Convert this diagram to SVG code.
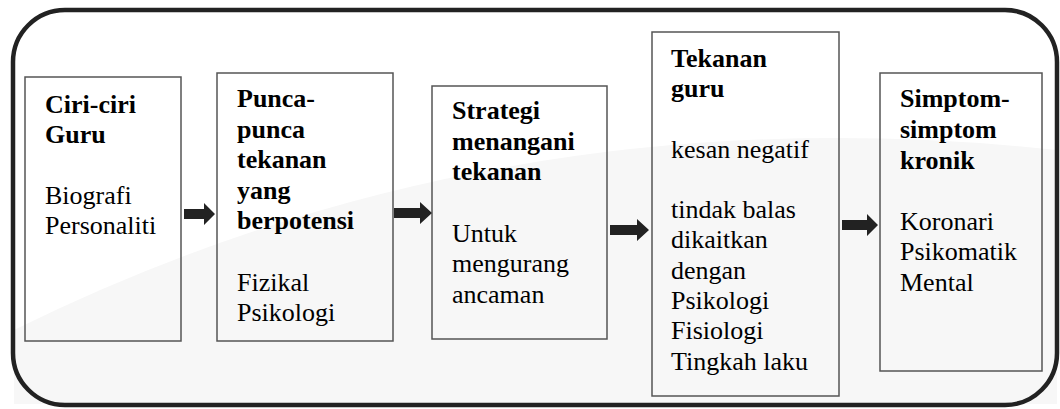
<svg xmlns="http://www.w3.org/2000/svg" width="1060" height="409" viewBox="0 0 1060 409">
  <rect width="1060" height="409" fill="#ffffff"/>
  <path d="M 14 330 Q 500 90 1057 150 L 1057 404 L 14 404 Z" fill="#f7f7f7"/>
  <rect x="13" y="10" width="1044" height="395" rx="52" ry="52" fill="none" stroke="#222" stroke-width="4.5"/>
  <g id="node1">
    <rect x="25" y="77" width="156" height="264" fill="none" stroke="#555" stroke-width="1.5"/>
    <text x="45" y="113" font-family="Times New Roman" font-size="26" font-weight="bold">Ciri-ciri</text>
    <text x="45" y="143" font-family="Times New Roman" font-size="26" font-weight="bold">Guru</text>
    <text x="45" y="204" font-family="Times New Roman" font-size="26">Biografi</text>
    <text x="45" y="234" font-family="Times New Roman" font-size="26">Personaliti</text>
  </g>
  <g id="node2">
    <rect x="217" y="73" width="176" height="268" fill="none" stroke="#555" stroke-width="1.5"/>
    <text x="237" y="107" font-family="Times New Roman" font-size="26" font-weight="bold">Punca-</text>
    <text x="237" y="137.5" font-family="Times New Roman" font-size="26" font-weight="bold">punca</text>
    <text x="237" y="168" font-family="Times New Roman" font-size="26" font-weight="bold">tekanan</text>
    <text x="237" y="198.5" font-family="Times New Roman" font-size="26" font-weight="bold">yang</text>
    <text x="237" y="229" font-family="Times New Roman" font-size="26" font-weight="bold">berpotensi</text>
    <text x="237" y="291" font-family="Times New Roman" font-size="26">Fizikal</text>
    <text x="237" y="321" font-family="Times New Roman" font-size="26">Psikologi</text>
  </g>
  <g id="node3">
    <rect x="432" y="86" width="175" height="253" fill="none" stroke="#555" stroke-width="1.5"/>
    <text x="452" y="119" font-family="Times New Roman" font-size="26" font-weight="bold">Strategi</text>
    <text x="452" y="150" font-family="Times New Roman" font-size="26" font-weight="bold">menangani</text>
    <text x="452" y="180" font-family="Times New Roman" font-size="26" font-weight="bold">tekanan</text>
    <text x="452" y="242" font-family="Times New Roman" font-size="26">Untuk</text>
    <text x="452" y="272" font-family="Times New Roman" font-size="26">mengurang</text>
    <text x="452" y="303" font-family="Times New Roman" font-size="26">ancaman</text>
  </g>
  <g id="node4">
    <rect x="652" y="32" width="187" height="364" fill="none" stroke="#555" stroke-width="1.5"/>
    <text x="671" y="67" font-family="Times New Roman" font-size="26" font-weight="bold">Tekanan</text>
    <text x="671" y="97" font-family="Times New Roman" font-size="26" font-weight="bold">guru</text>
    <text x="671" y="158" font-family="Times New Roman" font-size="26">kesan negatif</text>
    <text x="671" y="218" font-family="Times New Roman" font-size="26">tindak balas</text>
    <text x="671" y="248" font-family="Times New Roman" font-size="26">dikaitkan</text>
    <text x="671" y="279" font-family="Times New Roman" font-size="26">dengan</text>
    <text x="671" y="309" font-family="Times New Roman" font-size="26">Psikologi</text>
    <text x="671" y="339" font-family="Times New Roman" font-size="26">Fisiologi</text>
    <text x="671" y="370" font-family="Times New Roman" font-size="26">Tingkah laku</text>
  </g>
  <g id="node5">
    <rect x="880" y="73" width="162" height="298" fill="none" stroke="#555" stroke-width="1.5"/>
    <text x="900" y="107" font-family="Times New Roman" font-size="26" font-weight="bold">Simptom-</text>
    <text x="900" y="138" font-family="Times New Roman" font-size="26" font-weight="bold">simptom</text>
    <text x="900" y="169" font-family="Times New Roman" font-size="26" font-weight="bold">kronik</text>
    <text x="900" y="230" font-family="Times New Roman" font-size="26">Koronari</text>
    <text x="900" y="260" font-family="Times New Roman" font-size="26">Psikomatik</text>
    <text x="900" y="291" font-family="Times New Roman" font-size="26">Mental</text>
  </g>
  <g id="connectors" fill="#222">
    <path d="M 184 209 L 204 209 L 204 203 L 215 214 L 204 225 L 204 219 L 184 219 Z"/>
    <path d="M 394 208 L 420 208 L 420 202 L 432 213 L 420 224 L 420 218 L 394 218 Z"/>
    <path d="M 610 225 L 637 225 L 637 219 L 649 230 L 637 241 L 637 235 L 610 235 Z"/>
    <path d="M 842 220 L 867 220 L 867 214 L 878 225 L 867 236 L 867 230 L 842 230 Z"/>
  </g>
</svg>
